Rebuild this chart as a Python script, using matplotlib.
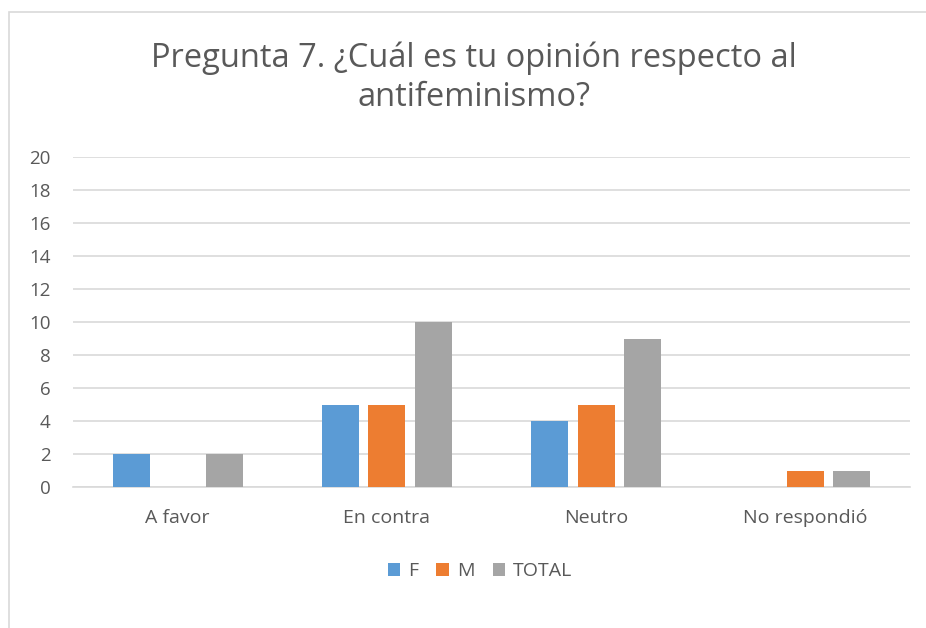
import numpy as np
import matplotlib.pyplot as plt
from matplotlib.patches import Rectangle

categories = ['A favor', 'En contra', 'Neutro', 'No respondió']
f_vals = [2, 5, 4, 0]
m_vals = [0, 5, 5, 1]
total_vals = [2, 10, 9, 1]
series = ['F', 'M', 'TOTAL']
colors = ['#5B9BD5', '#ED7D31', '#A5A5A5']

plt.rcParams['font.family'] = ['Open Sans', 'DejaVu Sans']
text_color = '#595959'

fig = plt.figure(figsize=(9.26, 6.28), dpi=100)

# chart frame
fig.patches.append(Rectangle((9 / 926, -0.01), 1.0, 1 - 12 / 628 + 0.01,
                             transform=fig.transFigure, fill=False,
                             edgecolor='#D9D9D9', linewidth=1.2))

ax = fig.add_axes([73 / 926, 1 - 487 / 628, 837 / 926, 330 / 628])

x = np.arange(len(categories))
width = 0.177
offset = 0.222
for i, (vals, name, c) in enumerate(zip([f_vals, m_vals, total_vals], series, colors)):
    ax.bar(x + (i - 1) * offset, vals, width, color=c, label=name, zorder=3)

ax.set_xlim(-0.5, len(categories) - 0.5)
ax.set_ylim(0, 20)
ax.set_yticks(range(0, 21, 2))
ax.set_xticks(x)
ax.set_xticklabels(categories)
ax.grid(axis='y', color='#D9D9D9', linewidth=1.2, zorder=0)
for s in ['top', 'right', 'left']:
    ax.spines[s].set_visible(False)
ax.spines['bottom'].set_color('#D9D9D9')
ax.spines['bottom'].set_linewidth(1.2)
ax.tick_params(axis='y', length=0, labelsize=13.5, colors=text_color, pad=16)
ax.tick_params(axis='x', length=0, labelsize=14, colors=text_color, pad=16)

fig.text(474 / 926, 1 - 58 / 628, 'Pregunta 7. ¿Cuál es tu opinión respecto al',
         ha='center', va='center', fontsize=23.5, color=text_color)
fig.text(474 / 926, 1 - 98 / 628, 'antifeminismo?',
         ha='center', va='center', fontsize=23.5, color=text_color)

fig.legend(loc='center', bbox_to_anchor=(480 / 926, 1 - 571 / 628), ncol=3,
           frameon=False, fontsize=14, handlelength=0.65, handleheight=0.65,
           handletextpad=0.4, columnspacing=0.95, labelcolor=text_color)

fig.savefig('out.png', dpi=100)
